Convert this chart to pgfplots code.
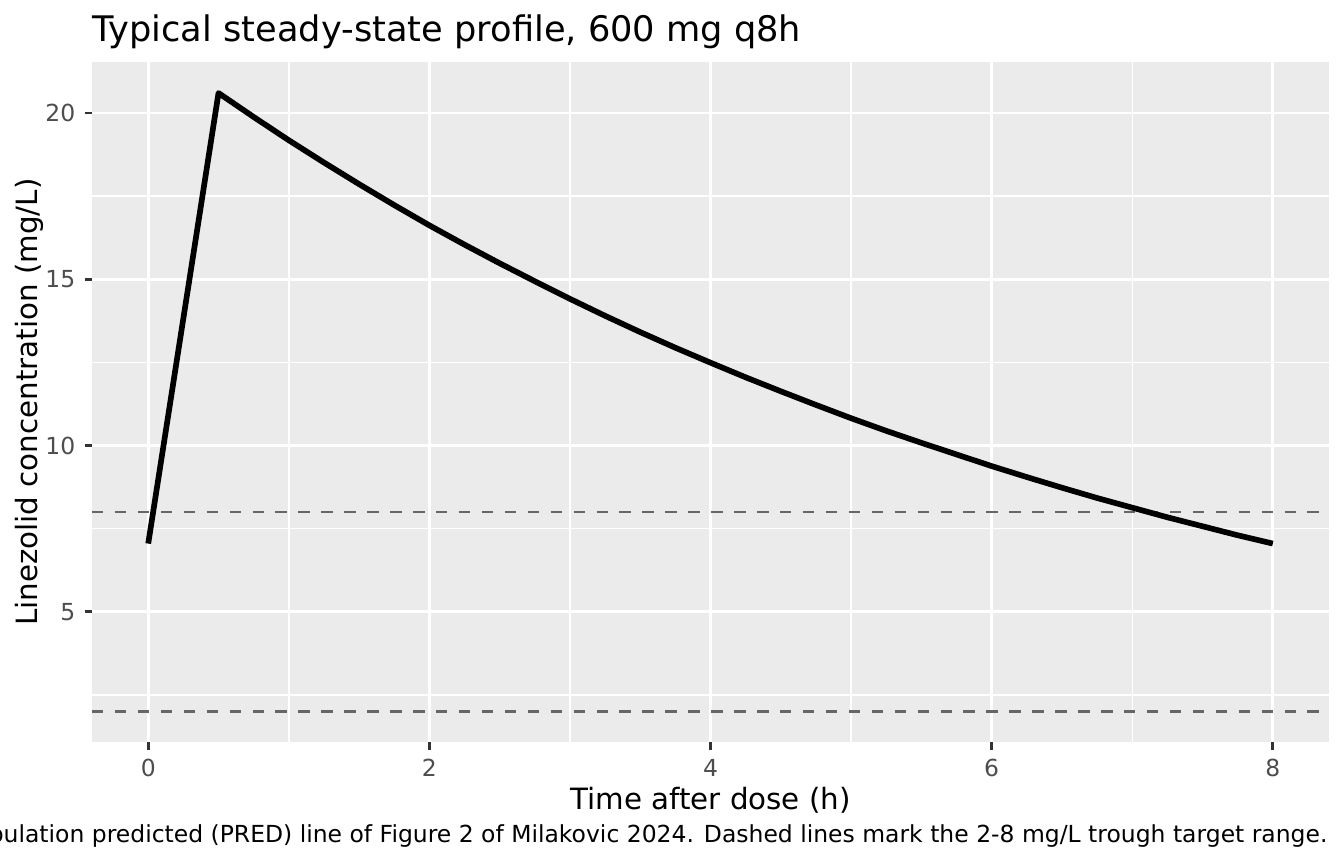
\documentclass[border=0pt]{standalone}
\usepackage{fontspec}
\setmainfont{DejaVu Sans}
\usepackage{pgfplots}
\pgfplotsset{compat=1.18}
\definecolor{panelbg}{HTML}{EBEBEB}
\definecolor{tickgrey}{HTML}{333333}
\definecolor{labgrey}{HTML}{4D4D4D}
\definecolor{dashgrey}{HTML}{666666}
\begin{document}
\begin{tikzpicture}
\begin{axis}[
  at={(34.5pt,45.6pt)}, anchor=south west,
  scale only axis, width=463.9pt, height=255.1pt,
  xmin=-0.4, xmax=8.4, ymin=1.07, ymax=21.53,
  xtick={0,2,4,6,8}, ytick={5,10,15,20},
  minor xtick={1,3,5,7}, minor ytick={2.5,7.5,12.5,17.5},
  axis background/.style={fill=panelbg},
  axis line style={draw=none},
  grid=both,
  major grid style={white, line width=1.07pt},
  minor grid style={white, line width=0.53pt},
  tick align=outside, tick pos=lower,
  major tick length=2.75pt, minor tick length=0pt,
  major tick style={tickgrey, line width=1.07pt},
  /pgf/number format/assume math mode=true,
  ticklabel style={font=\fontsize{8.8}{10}\selectfont, text=labgrey},
  xticklabel style={anchor=north},
  yticklabel style={anchor=east},
]
\addplot[dashgrey, line width=1.07pt, dash pattern=on 4.3pt off 4.3pt, forget plot] coordinates {(-0.4,8) (8.4,8)};
\addplot[dashgrey, line width=1.07pt, dash pattern=on 4.3pt off 4.3pt, forget plot] coordinates {(-0.4,2) (8.4,2)};
\addplot[black, line width=2.13pt, line join=round] coordinates {
(0,7.05) (0.5,20.6) (0.75,19.88) (1,19.18) (1.25,18.51) (1.5,17.86) (1.75,17.23)
(2,16.62) (2.25,16.04) (2.5,15.48) (2.75,14.94) (3,14.41) (3.25,13.90) (3.5,13.41)
(3.75,12.94) (4,12.49) (4.25,12.05) (4.5,11.63) (4.75,11.22) (5,10.82) (5.25,10.44)
(5.5,10.08) (5.75,9.73) (6,9.38) (6.25,9.05) (6.5,8.73) (6.75,8.42) (7,8.13)
(7.25,7.84) (7.5,7.57) (7.75,7.30) (8,7.05)};
\end{axis}
\node[anchor=base west, inner sep=0pt, font=\fontsize{13.2}{15}\selectfont] at (34.5pt,308.25pt) {Typical steady-state profile, 600 mg q8h};
\node[anchor=base, inner sep=0pt, font=\fontsize{11}{13}\selectfont] at (266.45pt,20.6pt) {Time after dose (h)};
\node[anchor=base, inner sep=0pt, rotate=90, font=\fontsize{11}{13}\selectfont] at (13.9pt,173.2pt) {Linezolid concentration (mg/L)};
\node[anchor=base east, inner sep=0pt, font=\fontsize{8.8}{10}\selectfont] at (498pt,7.9pt) {Population predicted (PRED) line of Figure 2 of Milakovic 2024. Dashed lines mark the 2-8 mg/L trough target range.};
\pgfresetboundingbox
\path[use as bounding box] (0,0) rectangle (504pt,324pt);
\end{tikzpicture}
\end{document}
